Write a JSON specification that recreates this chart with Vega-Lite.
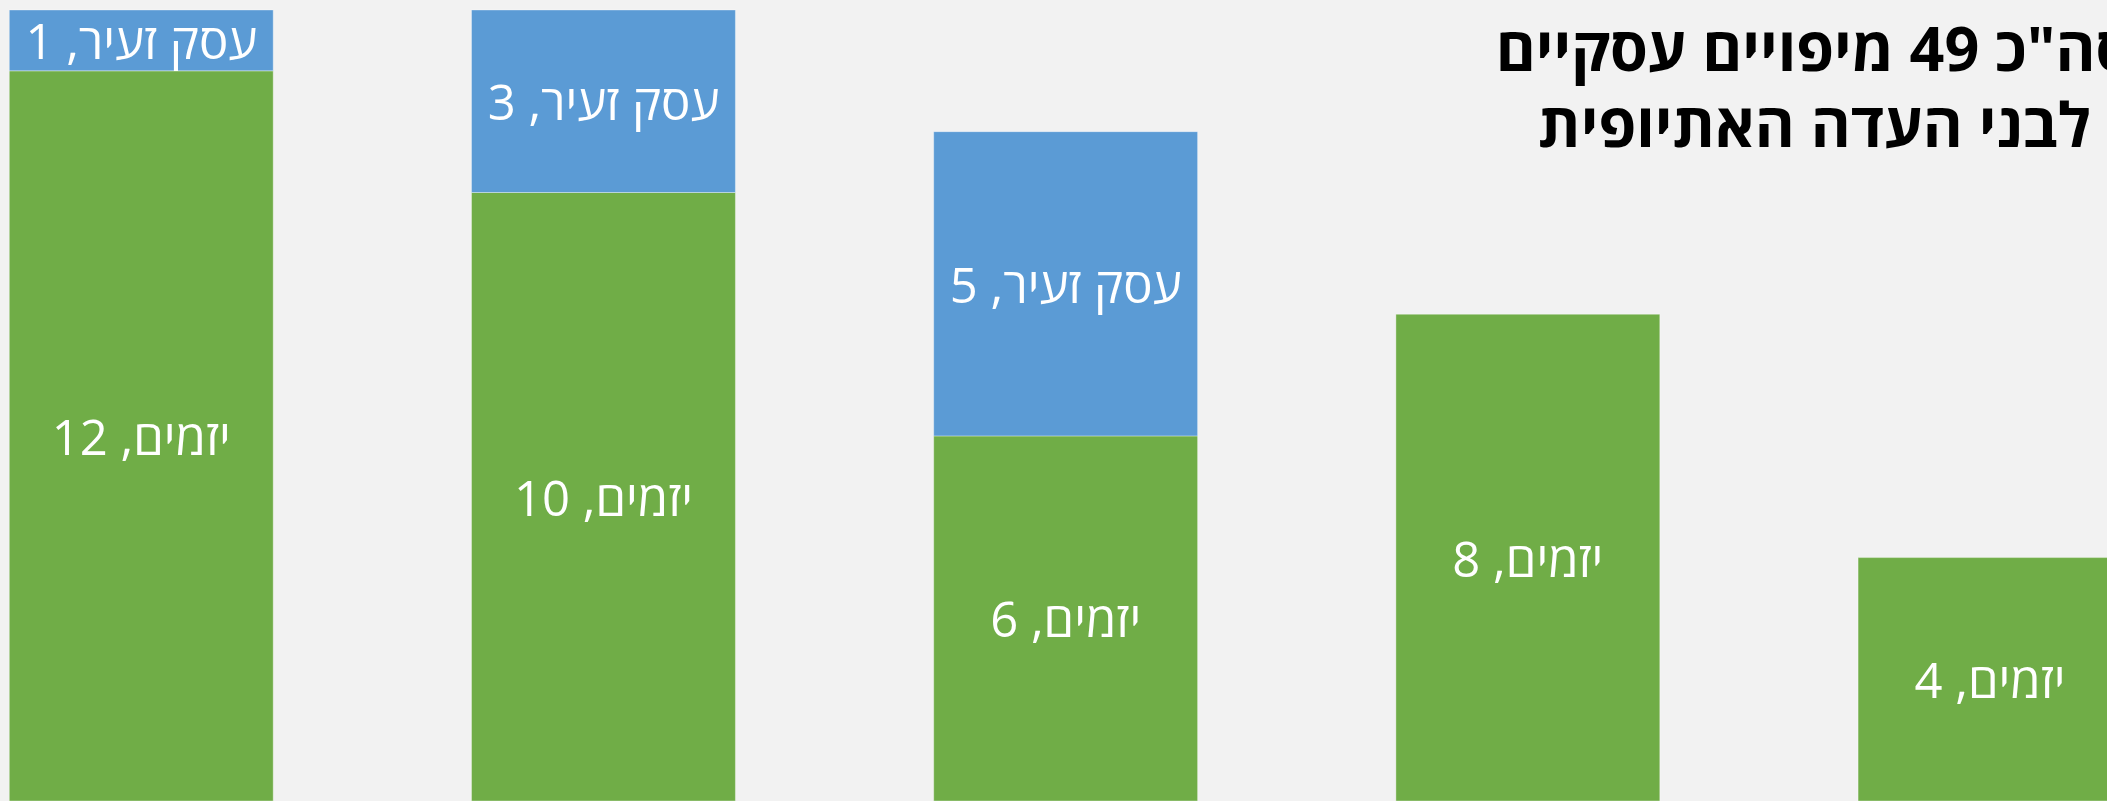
{
  "$schema": "https://vega.github.io/schema/vega-lite/v6.json",
  "width": 2107,
  "height": 801,
  "padding": 0,
  "autosize": {"type": "none"},
  "background": "#F2F2F2",
  "config": {"view": {"stroke": null}},
  "title": {
    "text": ["סה\"כ 49 מיפויים עסקיים", "לבני העדה האתיופית"],
    "font": "Open Sans",
    "fontSize": 61,
    "fontWeight": "bold",
    "color": "#000000",
    "anchor": "middle",
    "frame": "group",
    "orient": "top",
    "offset": 0,
    "dx": 761,
    "dy": 160,
    "lineHeight": 76,
    "baseline": "top"
  },
  "data": {
    "values": [
      {"group": "1", "type": "יזמים", "value": 12},
      {"group": "1", "type": "עסק זעיר", "value": 1},
      {"group": "2", "type": "יזמים", "value": 10},
      {"group": "2", "type": "עסק זעיר", "value": 3},
      {"group": "3", "type": "יזמים", "value": 6},
      {"group": "3", "type": "עסק זעיר", "value": 5},
      {"group": "4", "type": "יזמים", "value": 8},
      {"group": "5", "type": "יזמים", "value": 4}
    ]
  },
  "transform": [
    {"stack": "value", "groupby": ["group"], "sort": [{"field": "type", "order": "ascending"}], "as": ["v0", "v1"]},
    {"calculate": "(datum.v0 + datum.v1) / 2", "as": "mid"},
    {"calculate": "datum.type + ', ' + datum.value", "as": "label"}
  ],
  "encoding": {
    "x": {
      "field": "group",
      "type": "nominal",
      "axis": null,
      "scale": {"range": [9.3, 2122], "paddingInner": 0.429, "paddingOuter": 0}
    }
  },
  "layer": [
    {
      "mark": {"type": "bar", "stroke": "#ffffff", "strokeWidth": 0.6, "strokeOpacity": 0.6},
      "encoding": {
        "y": {"field": "v0", "type": "quantitative", "scale": {"domain": [0, 13.164], "nice": false}, "axis": null},
        "y2": {"field": "v1"},
        "color": {
          "field": "type",
          "type": "nominal",
          "scale": {"domain": ["יזמים", "עסק זעיר"], "range": ["#70AD47", "#5B9BD5"]},
          "legend": null
        }
      }
    },
    {
      "mark": {"type": "text", "color": "#ffffff", "font": "Open Sans", "fontSize": 49, "baseline": "middle", "align": "center", "dy": 4},
      "encoding": {
        "y": {"field": "mid", "type": "quantitative"},
        "text": {"field": "label"}
      }
    }
  ]
}
